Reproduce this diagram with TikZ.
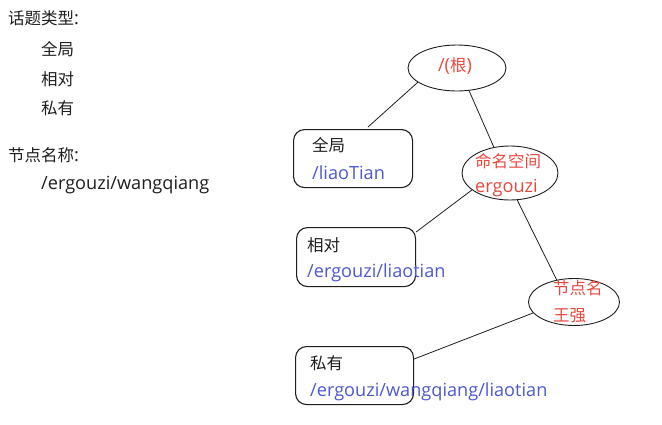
\documentclass[tikz,border=0pt]{standalone}
\usepackage{fontspec}
\setmainfont{Noto Sans CJK SC}
\newfontfamily\latfont[Scale=1.1]{Open Sans}
\usetikzlibrary{shapes.geometric,calc}
\definecolor{tred}{RGB}{232,72,60}
\definecolor{tblue}{RGB}{78,88,205}
\definecolor{tblack}{RGB}{30,30,30}
\newcommand{\la}[1]{{\latfont #1}}
\tikzset{
  lbl/.style={anchor=west,inner sep=0pt,font=\fontsize{16.5}{16.5}\selectfont,text=tblack},
  rtxt/.style={lbl,text=tred},
  btxt/.style={lbl,text=tblue},
  rbox/.style={draw=tblack,line width=1.1pt,rounded corners=11pt,inner sep=0pt},
  ell/.style={draw=tblack,line width=0.9pt,ellipse,inner sep=0pt},
  conn/.style={draw=tblack,line width=0.8pt},
}
\begin{document}
\begin{tikzpicture}[x=1pt,y=-1pt]
\useasboundingbox (0,0) rectangle (662,424);
% left legend
\node[lbl] (t1) at (8,18) {话题类型\la{:}};
\node[lbl] (t2) at (41,49) {全局};
\node[lbl] (t3) at (41,79) {相对};
\node[lbl] (t4) at (41,108) {私有};
\node[lbl] (t5) at (8,155) {节点名称\la{:}};
\node[lbl] (t6) at (41,185) {\la{/ergouzi/wangqiang}};
% ellipses
\node[ell,minimum width=98pt,minimum height=46pt] (root) at (457,68) {};
\node[rtxt,anchor=center] (roott) at (455,66) {\la{/(}根\la{)}};
\node[ell,minimum width=96pt,minimum height=54pt] (ns) at (510,173) {};
\node[rtxt] (ns1) at (475,161) {命名空间};
\node[rtxt] (ns2) at (475,188) {\la{ergouzi}};
\node[ell,minimum width=91pt,minimum height=47pt] (nd) at (574,302) {};
\node[rtxt] (nd1) at (553,288) {节点名};
\node[rtxt] (nd2) at (553,316) {王强};
% boxes
\node[rbox,anchor=north west,minimum width=119pt,minimum height=58pt] (g) at (293,129) {};
\node[lbl] (g1) at (312,145) {全局};
\node[btxt] (g2) at (312,173) {\la{/liaoTian}};
\node[rbox,anchor=north west,minimum width=119pt,minimum height=59pt] (r) at (296,227) {};
\node[lbl] (r1) at (307,245) {相对};
\node[btxt] (r2) at (307,273) {\la{/ergouzi/liaotian}};
\node[rbox,anchor=north west,minimum width=118pt,minimum height=58pt] (p) at (295,346) {};
\node[lbl] (p1) at (310,363) {私有};
\node[btxt] (p2) at (310,392) {\la{/ergouzi/wangqiang/liaotian}};
% connectors
\draw[conn] (root.200) -- ($(g.north west)+(75,-2)$);
\draw[conn] (root.-62) -- (ns.122);
\draw[conn] (ns.204) -- ($(r.north east)+(0,5)$);
\draw[conn] (ns.-75) -- (nd.128);
\draw[conn] (nd.195) -- ($(p.north east)+(0,13)$);
\end{tikzpicture}
\end{document}
